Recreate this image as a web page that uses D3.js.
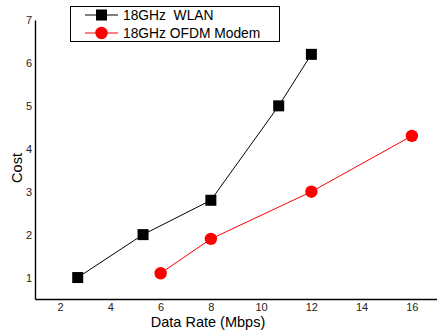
<!DOCTYPE html>
<html>
<head>
<meta charset="utf-8">
<script src="https://cdn.jsdelivr.net/npm/d3@7"></script>
<style>
  body { margin: 0; background: #fff; }
  svg { font-family: "Liberation Sans", Arial, sans-serif; }
</style>
</head>
<body>
<div id="container"></div>
<script>
/* DATA */
var wlanRate = [2.7, 5.3, 8, 10.7, 12],
    wlanCost = [1, 2, 2.8, 5, 6.2];
var ofdmRate = [6, 8, 12, 16],
    ofdmCost = [1.1, 1.9, 3, 4.3];
var xTicks = [2, 4, 6, 8, 10, 12, 14, 16],
    yTicks = [1, 2, 3, 4, 5, 6, 7];
var seriesNames = ["18GHz  WLAN", "18GHz OFDM Modem"];

var width = 437, height = 333;

/* SCALES */
const xScale = d3.scaleLinear().domain([1, 17]).range([35, 437]);
const yScale = d3.scaleLinear().domain([0.5, 7]).range([299, 20]);

const svg = d3.select("#container")
  .append("svg")
   .attr("width", width)
   .attr("height", height);

// axes
const xAxisGroup = svg.append("g")
  .attr("transform", "translate(0," + yScale(0.5) + ")")
  .call(d3.axisBottom(xScale).tickValues(xTicks).tickFormat(d3.format("d")).tickSize(0).tickPadding(4).tickSizeOuter(0));
const yAxisGroup = svg.append("g")
  .attr("transform", "translate(" + xScale(1) + ",0)")
  .call(d3.axisLeft(yScale).tickValues(yTicks).tickFormat(d3.format("d")).tickSize(0).tickPadding(3).tickSizeOuter(0));

[xAxisGroup, yAxisGroup].forEach(g => {
  g.select(".domain").attr("stroke", "#000").attr("stroke-width", 1.4);
  g.selectAll("text").attr("font-size", 11).attr("fill", "#222").attr("font-family", "Liberation Sans, Arial, sans-serif");
});

// axis titles
svg.append("text")
  .attr("x", 208).attr("y", 327)
  .attr("text-anchor", "middle")
  .attr("font-size", 14.5)
  .text("Data Rate (Mbps)");
svg.append("text")
  .attr("transform", "translate(22,168) rotate(-90)")
  .attr("text-anchor", "middle")
  .attr("font-size", 14.5)
  .text("Cost");

// lines
const line = d3.line().x(d => xScale(d[0])).y(d => yScale(d[1]));
const wlan = d3.zip(wlanRate, wlanCost),
      ofdm = d3.zip(ofdmRate, ofdmCost);

svg.append("path").datum(wlan)
  .attr("d", line).attr("fill", "none").attr("stroke", "#000").attr("stroke-width", 1);
svg.append("path").datum(ofdm)
  .attr("d", line).attr("fill", "none").attr("stroke", "#ff0000").attr("stroke-width", 1);

// markers
svg.selectAll("rect.wlan")
  .data(wlan)
  .join("rect")
  .attr("class", "wlan")
  .attr("x", d => xScale(d[0]) - 5.5)
  .attr("y", d => yScale(d[1]) - 5.5)
  .attr("width", 11).attr("height", 11)
  .attr("fill", "#000");
svg.selectAll("circle.ofdm")
  .data(ofdm)
  .join("circle")
  .attr("class", "ofdm")
  .attr("cx", d => xScale(d[0]))
  .attr("cy", d => yScale(d[1]))
  .attr("r", 6.2)
  .attr("fill", "#ff0000");

// legend
const legend = svg.append("g");
legend.append("rect")
  .attr("x", 70.5).attr("y", 6.5).attr("width", 209).attr("height", 35)
  .attr("fill", "#fff").attr("stroke", "#000").attr("stroke-width", 1);
const rows = [15, 33];
legend.append("line").attr("x1", 85).attr("x2", 118).attr("y1", rows[0]).attr("y2", rows[0]).attr("stroke", "#000");
legend.append("rect").attr("x", 96).attr("y", rows[0] - 5.5).attr("width", 11).attr("height", 11).attr("fill", "#000");
legend.append("line").attr("x1", 85).attr("x2", 118).attr("y1", rows[1]).attr("y2", rows[1]).attr("stroke", "#ff0000");
legend.append("circle").attr("cx", 101.5).attr("cy", rows[1]).attr("r", 6.2).attr("fill", "#ff0000");
legend.selectAll("text.lab")
  .data(seriesNames)
  .join("text")
  .attr("class", "lab")
  .attr("x", 123)
  .attr("y", (d, i) => rows[i] + 5)
  .attr("font-size", 13.8)
  .style("white-space", "pre")
  .text(d => d);
</script>
</body>
</html>
